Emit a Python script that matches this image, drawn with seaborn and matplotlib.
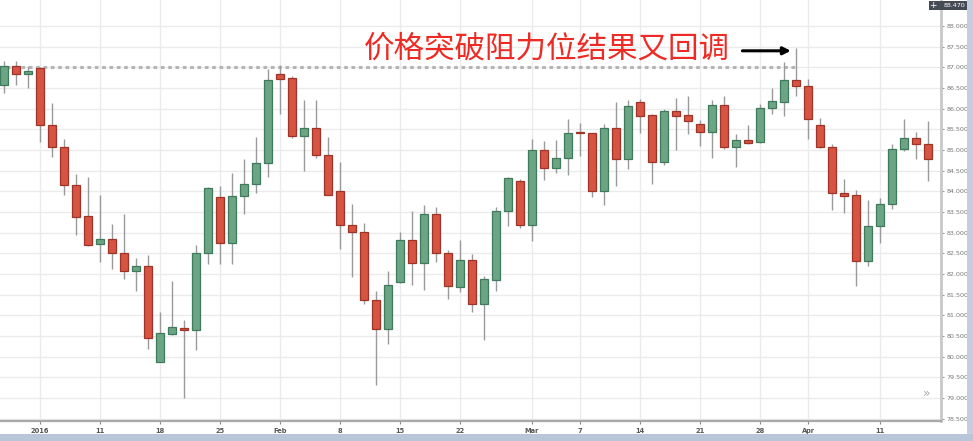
import numpy as np
import pandas as pd
import matplotlib
matplotlib.use("Agg")
import matplotlib.pyplot as plt
from matplotlib.patches import Rectangle
import seaborn as sns

# ---- data ----
opens = [86.58, 87.03, 86.83, 86.99, 85.60, 85.06, 84.16, 83.39, 82.73, 82.85,
         82.51, 82.06, 82.19, 79.88, 80.54, 80.70, 80.64, 82.51, 83.85, 82.76,
         83.89, 84.18, 84.68, 86.83, 86.73, 85.35, 85.54, 84.89, 84.00, 83.19,
         83.01, 81.37, 80.66, 81.81, 82.82, 82.26, 83.45, 82.50, 81.69, 82.34,
         81.28, 81.86, 83.52, 84.25, 83.19, 84.99, 84.56, 84.80, 85.42, 85.40,
         84.00, 85.53, 84.77, 86.16, 85.84, 84.71, 85.94, 85.84, 85.63, 85.44,
         86.10, 85.07, 85.23, 85.19, 86.02, 86.16, 86.69, 86.55, 85.60, 85.07,
         83.96, 83.90, 82.32, 83.15, 83.70, 85.03, 85.30, 85.15]
highs = [87.15, 87.15, 87.03, 87.02, 86.14, 85.26, 84.42, 84.34, 83.90, 83.21,
         83.44, 82.39, 82.47, 81.08, 81.83, 80.89, 82.71, 84.10, 84.12, 84.45,
         84.79, 85.31, 86.96, 87.05, 86.79, 86.20, 86.22, 85.31, 84.72, 83.70,
         83.23, 81.58, 82.06, 83.01, 83.52, 83.66, 83.61, 82.59, 82.81, 82.48,
         81.96, 83.61, 84.35, 84.30, 85.26, 85.22, 85.23, 85.76, 85.66, 85.42,
         85.64, 86.15, 86.22, 86.23, 85.86, 85.98, 86.25, 86.30, 85.72, 86.20,
         86.30, 85.38, 85.60, 86.11, 86.51, 87.12, 87.46, 86.71, 85.78, 85.15,
         84.29, 84.04, 83.79, 83.83, 85.15, 85.74, 85.43, 85.69]
lows = [86.38, 86.58, 86.49, 85.19, 84.84, 83.92, 82.93, 82.68, 82.28, 82.13,
        81.88, 81.59, 80.18, 79.86, 80.52, 78.99, 80.15, 82.24, 82.24, 82.24,
        83.45, 83.96, 84.34, 85.88, 85.30, 84.49, 84.80, 83.90, 82.60, 81.93,
        81.28, 79.31, 80.31, 81.78, 81.73, 81.62, 82.30, 81.39, 81.57, 81.07,
        80.40, 81.59, 83.15, 83.11, 82.79, 84.28, 84.44, 84.40, 84.85, 83.86,
        83.67, 84.12, 84.54, 85.40, 84.18, 84.63, 85.01, 85.38, 85.09, 84.81,
        85.03, 84.59, 85.15, 85.17, 85.88, 85.82, 86.31, 85.27, 85.05, 83.55,
        83.47, 81.71, 82.20, 82.75, 83.58, 84.97, 84.79, 84.25]
closes = [87.03, 86.83, 86.92, 85.60, 85.06, 84.15, 83.37, 82.70, 82.85, 82.50,
          82.06, 82.19, 80.46, 80.56, 80.71, 80.64, 82.51, 84.09, 82.76, 83.89,
          84.18, 84.69, 86.69, 86.72, 85.35, 85.54, 84.89, 83.92, 83.19, 83.01,
          81.37, 80.66, 81.72, 82.82, 82.26, 83.45, 82.50, 81.70, 82.34, 81.28,
          81.88, 83.52, 84.33, 83.19, 84.99, 84.56, 84.80, 85.42, 85.40, 84.00,
          85.53, 84.77, 86.07, 85.83, 84.71, 85.94, 85.82, 85.70, 85.44, 86.10,
          85.07, 85.23, 85.16, 86.02, 86.18, 86.69, 86.55, 85.74, 85.07, 83.96,
          83.88, 82.32, 83.15, 83.70, 85.03, 85.30, 85.15, 84.79]

tick_index = [3, 8, 13, 18, 23, 28, 33, 38, 44, 48, 53, 58, 63, 67, 73]
tick_labels = ["2016", "11", "18", "25", "Feb", "8", "15", "22", "Mar", "7",
               "14", "21", "28", "Apr", "11"]
resistance = 87.02
resistance_end = 66
price_ticks = [78.5, 79.0, 79.5, 80.0, 80.5, 81.0, 81.5, 82.0, 82.5, 83.0,
               83.5, 84.0, 84.5, 85.0, 85.5, 86.0, 86.5, 87.0, 87.5, 88.0]
annotation = "价格突破阻力位结果又回调"
last_marker = 88.470

df = pd.DataFrame({"open": opens, "high": highs, "low": lows, "close": closes})
df["idx"] = np.arange(len(df))
df["up"] = df["close"] >= df["open"]

sns.set_theme(style="white")
plt.rcParams['font.family'] = ['Noto Sans CJK SC', 'DejaVu Sans']

YMIN, YMAX = 78.44, 88.63
fig = plt.figure(figsize=(9.73, 4.41), dpi=100)
ax = fig.add_axes([0, 20 / 441, 941 / 973, 421 / 441])

green_face, green_edge = "#6ba583", "#3f7a5c"
red_face, red_edge = "#d75442", "#9e3428"

ax.vlines(df["idx"], df["low"], df["high"], color="#9a9a9a", linewidth=1.0, zorder=2)
for up, face, edge in [(True, green_face, green_edge), (False, red_face, red_edge)]:
    sub = df[df["up"] == up]
    bottom = np.minimum(sub["open"], sub["close"])
    height = np.maximum(np.abs(sub["close"] - sub["open"]), 0.035)
    ax.bar(sub["idx"], height, bottom=bottom, width=0.6, color=face,
           edgecolor=edge, linewidth=0.9, zorder=3)

ax.hlines(resistance, -0.5, resistance_end, colors="#b5b5b5", linestyles=(0, (1.2, 1.2)),
          linewidth=2.2, zorder=1)

ax.set_xlim(-0.33, 78.08)
ax.set_ylim(YMIN, YMAX)
ax.set_xticks(tick_index)
ax.set_xticklabels(tick_labels, fontsize=4.8, color="#555555", fontweight="bold",
                   family="DejaVu Sans")
ax.set_yticks(price_ticks)
ax.set_yticklabels([f"{p:.3f}" for p in price_ticks], fontsize=4.6, color="#777777",
                   family="DejaVu Sans")
ax.yaxis.tick_right()
ax.tick_params(axis="y", length=2.5, width=0.8, color="#999999", pad=1.5, right=True, left=False)
ax.tick_params(axis="x", length=2.5, width=0.8, color="#888888", pad=2.5, bottom=True)
ax.grid(True, color="#ebebeb", linewidth=1.0, zorder=0)
ax.set_axisbelow(True)
for s in ["top", "left"]:
    ax.spines[s].set_visible(False)
ax.spines["right"].set_color("#c8c8c8")
ax.spines["right"].set_linewidth(2.0)
ax.spines["bottom"].set_color("#a8a8a8")
ax.spines["bottom"].set_linewidth(1.6)

# annotation text and arrow
ax.text(30, 87.45, annotation, color="#ee2a24", fontsize=22, ha="left", va="center",
        family=['Noto Sans CJK SC', 'DejaVu Sans'])
ax.annotate("", xy=(65.8, 87.40), xytext=(61.3, 87.40),
            arrowprops=dict(arrowstyle="-|>", color="black", lw=2.2, mutation_scale=11))

# last value marker box (with crosshair "+")
yfrac = (last_marker - YMIN) / (YMAX - YMIN)
fig.patches.append(Rectangle((929 / 973, 1 - 10 / 441), 38 / 973, 9 / 441,
                             transform=fig.transFigure, facecolor="#444b55",
                             edgecolor="none", zorder=5))
fig.text(954 / 973, 1 - 5.5 / 441, f"{last_marker:.3f}", fontsize=4.6, color="white",
         ha="center", va="center", family="DejaVu Sans", zorder=6)
fig.text(933 / 973, 1 - 5.5 / 441, "+", fontsize=6.5, color="white",
         ha="center", va="center", family="DejaVu Sans", zorder=6)
ax.text(0.985, 0.065, "»", transform=ax.transAxes, fontsize=9, color="#aaaaaa",
        ha="center", va="center", family="DejaVu Sans")

# frame bands
fig.patches.append(Rectangle((0, 0), 1, 7 / 441, transform=fig.transFigure,
                             facecolor="#b9c5d9", edgecolor="none"))
fig.patches.append(Rectangle((967 / 973, 7 / 441), 6 / 973, 1, transform=fig.transFigure,
                             facecolor="#c3cee0", edgecolor="none"))

fig.savefig("out.png", dpi=100)
